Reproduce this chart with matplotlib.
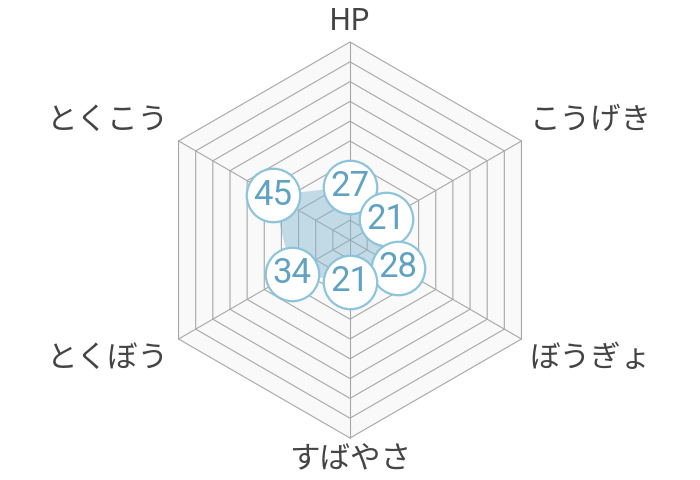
import numpy as np
import matplotlib
matplotlib.use("Agg")
import matplotlib.pyplot as plt
from matplotlib.patches import Polygon

plt.rcParams['font.family'] = ['Noto Sans CJK JP', 'DejaVu Sans']

categories = ["HP", "こうげき", "ぼうぎょ", "すばやさ", "とくぼう", "とくこう"]
values = [27, 21, 28, 21, 34, 45]
max_value = 100
ring_step = 10

n = len(categories)
angles = np.deg2rad(90 - 60 * np.arange(n))
cosA, sinA = np.cos(angles), np.sin(angles)

fig = plt.figure(figsize=(7, 4.8), dpi=100)
ax = fig.add_axes([0, 0, 1, 1])
px = max_value / 198.0  # data units per pixel
ax.set_xlim(-350 * px, 350 * px)
ax.set_ylim(-240 * px, 240 * px)
ax.set_aspect('equal')
ax.axis('off')

# grid rings (outer first so the fill sits below)
for r in np.arange(max_value, 0, -ring_step):
    ax.add_patch(Polygon(np.column_stack([r * cosA, r * sinA]), closed=True,
                         facecolor='#f9f9f9', edgecolor='#a8a8a8', lw=0.8, zorder=1))
for c, s in zip(cosA, sinA):
    ax.plot([0, max_value * c], [0, max_value * s], color='#a8a8a8', lw=0.8, zorder=1)

# data polygon
vx = np.array(values) * cosA
vy = np.array(values) * sinA
ax.add_patch(Polygon(np.column_stack([vx, vy]), closed=True,
                     facecolor='#7fb6d0', alpha=0.45, edgecolor='none', zorder=2))

# value badges
for x, y, v in zip(vx, vy, values):
    ax.scatter([x], [y], s=1480, facecolor='white', edgecolor='#8cc4dc',
               linewidths=1.6, zorder=3)
    ax.text(x, y, str(v), ha='center', va='center', fontsize=25,
            color='#5fa2c2', family='Roboto', zorder=4)

# category labels
for lab, c, s in zip(categories, cosA, sinA):
    vx0, vy0 = max_value * c, max_value * s
    if abs(c) < 1e-6:
        dy = 20 * px if s > 0 else -22 * px
        ax.text(vx0, vy0 + dy, lab, ha='center', va='center', fontsize=22, color='#444444')
    else:
        dx = 8 * px if c > 0 else -10 * px
        dy = 20 * px if s > 0 else -20 * px
        ax.text(vx0 + dx, vy0 + dy, lab, ha='left' if c > 0 else 'right', va='center',
                fontsize=22, color='#444444')

fig.savefig('out.png', dpi=100, facecolor='white')
